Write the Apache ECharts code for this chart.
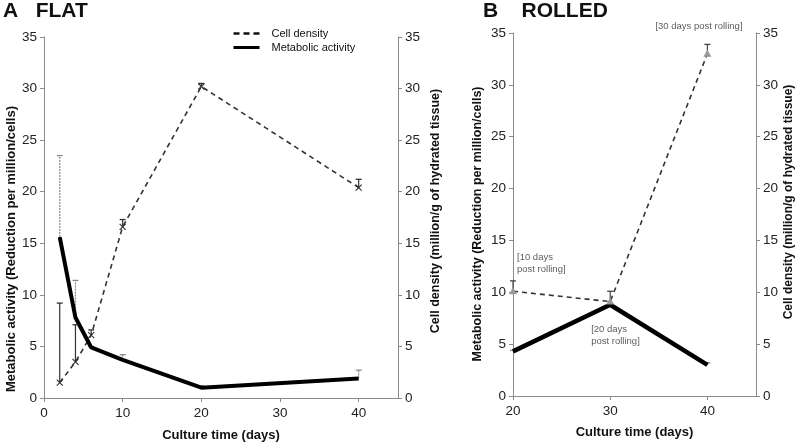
<!DOCTYPE html>
<html><head><meta charset="utf-8">
<script src="https://cdn.jsdelivr.net/npm/echarts@6/dist/echarts.min.js"></script>
<style>html,body{margin:0;padding:0;background:#fff}#c{width:800px;height:447px}</style>
</head><body><div id="c"></div>
<script>
// ---- data ----
var flatDays = [2, 4, 6, 10, 20, 40];
var flatMetab = [15.6, 7.8, 4.9, 3.7, 1.0, 1.9];
var flatMetabUpper = [23.5, 11.4, 5.0, 4.2, 1.2, 2.7];
var flatDensity = [1.5, 3.5, 6.1, 16.6, 30.2, 20.4];
var flatDensityUpper = [9.2, 7.1, 6.6, 17.3, 30.5, 21.2];

var rolledDays = [20, 30, 40];
var rolledMetab = [4.3, 8.8, 3.0];
var rolledMetabUpper = [4.4, 8.9, 3.2];
var rolledDensity = [10.1, 9.1, 33.0];
var rolledDensityUpper = [11.1, 10.1, 33.9];
var rolledNotes = ['[10 days\npost rolling]', '[20 days\npost rolling]', '[30 days post rolling]'];

var yTicks = [0, 5, 10, 15, 20, 25, 30, 35];
var flatXTicks = [0, 10, 20, 30, 40];
var rolledXTicks = [20, 30, 40];

var FONT = '"Liberation Sans", Arial, sans-serif';

function pairs(xs, ys) { return xs.map(function (x, i) { return [x, ys[i]]; }); }
function triples(xs, ys, us) { return xs.map(function (x, i) { return [x, ys[i], us[i]]; }); }

function errRender(color, dash, marker) {
  return function (params, api) {
    var p = api.coord([api.value(0), api.value(1)]);
    var u = api.coord([api.value(0), api.value(2)]);
    var st = { stroke: color, lineWidth: 1.2, lineDash: dash };
    var ch = [
      { type: 'line', shape: { x1: p[0], y1: p[1], x2: u[0], y2: u[1] }, style: st },
      { type: 'line', shape: { x1: u[0] - 3, y1: u[1], x2: u[0] + 3, y2: u[1] }, style: { stroke: color, lineWidth: 1.3 } }
    ];
    if (marker === 'x') {
      ch.push({ type: 'line', shape: { x1: p[0] - 3, y1: p[1] - 3, x2: p[0] + 3, y2: p[1] + 3 }, style: { stroke: color, lineWidth: 1.1 } });
      ch.push({ type: 'line', shape: { x1: p[0] - 3, y1: p[1] + 3, x2: p[0] + 3, y2: p[1] - 3 }, style: { stroke: color, lineWidth: 1.1 } });
    } else if (marker === 'tri') {
      ch.push({ type: 'polygon', shape: { points: [[p[0], p[1] - 4], [p[0] - 4, p[1] + 3], [p[0] + 4, p[1] + 3]] }, style: { fill: '#999' } });
    }
    return { type: 'group', children: ch };
  };
}

function yAxis(grid, pos, name, gap, size, pad) {
  return {
    type: 'value', gridIndex: grid, position: pos, min: 0, max: 35, interval: 5,
    name: name, nameLocation: 'middle', nameGap: gap, nameRotate: 90,
    nameTextStyle: { fontFamily: FONT, fontWeight: 'bold', fontSize: size, color: '#111', padding: pad },
    axisLine: { show: true, lineStyle: { color: '#8a8a8a', width: 1 } },
    axisTick: { show: true, inside: false, length: 4, lineStyle: { color: '#8a8a8a' } },
    axisLabel: { fontFamily: FONT, fontSize: 13.5, color: '#222', margin: 7 },
    splitLine: { show: false }
  };
}
function xAxis(grid, min, ticks, gap) {
  return {
    type: 'value', gridIndex: grid, min: min, max: 45, interval: 10,
    name: 'Culture time (days)', nameLocation: 'middle', nameGap: gap,
    nameTextStyle: { fontFamily: FONT, fontWeight: 'bold', fontSize: 13, color: '#111' },
    axisLine: { show: true, onZero: false, lineStyle: { color: '#8a8a8a', width: 1 } },
    axisTick: { show: true, length: 4, customValues: ticks, lineStyle: { color: '#8a8a8a' } },
    axisLabel: { fontFamily: FONT, fontSize: 13.5, color: '#222', margin: 8, customValues: ticks },
    splitLine: { show: false }
  };
}

var chart = echarts.init(document.getElementById('c'), null, { renderer: 'canvas' });
chart.setOption({
  animation: false,
  backgroundColor: '#fff',
  title: [
    { text: 'A   FLAT', left: 3, top: 1, padding: 0, textStyle: { fontFamily: FONT, fontWeight: 'bold', fontSize: 21, color: '#111' } },
    { text: 'B    ROLLED', left: 483, top: 1, padding: 0, textStyle: { fontFamily: FONT, fontWeight: 'bold', fontSize: 21, color: '#111' } }
  ],
  legend: {
    orient: 'vertical', left: 232, top: 28, itemWidth: 26, itemHeight: 10, itemGap: 3, padding: 0,
    itemStyle: { opacity: 0 },
    data: [
      { name: 'Cell density', lineStyle: { width: 2.5, type: [6, 4], color: '#111' } },
      { name: 'Metabolic activity', lineStyle: { width: 3, color: '#000' } }
    ],
    textStyle: { fontFamily: FONT, fontSize: 11, color: '#111', padding: [0, 0, 0, 7] }
  },
  grid: [
    { left: 44, top: 37, width: 354, height: 365 },
    { left: 513, top: 33, width: 243, height: 363 }
  ],
  xAxis: [xAxis(0, 0, flatXTicks, 31), xAxis(1, 20, rolledXTicks, 30)],
  yAxis: [
    yAxis(0, 'left', 'Metabolic activity (Reduction per million/cells)', 24, 13, [0, 63, 0, 0]),
    yAxis(0, 'right', 'Cell density (million/g of hydrated tissue)', 31, 12.5, [0, 0, 0, 13]),
    yAxis(1, 'left', 'Metabolic activity (Reduction per million/cells)', 29, 12.5, [0, 19, 0, 0]),
    yAxis(1, 'right', 'Cell density (million/g of hydrated tissue)', 27, 12, [0, 0, 0, 25])
  ],
  series: [
    { name: 'Cell density', type: 'line', xAxisIndex: 0, yAxisIndex: 1, data: pairs(flatDays, flatDensity),
      symbol: 'none', lineStyle: { color: '#333', width: 1.6, type: [5, 4] }, itemStyle: { color: '#333' }, z: 3 },
    { name: 'Metabolic activity', type: 'line', xAxisIndex: 0, yAxisIndex: 0, data: pairs(flatDays, flatMetab),
      symbol: 'none', lineStyle: { color: '#000', width: 4 }, itemStyle: { color: '#000' }, z: 4 },
    { type: 'custom', xAxisIndex: 0, yAxisIndex: 0, data: triples(flatDays, flatMetab, flatMetabUpper),
      renderItem: errRender('#8a8a8a', [2, 1], null), z: 2 },
    { type: 'custom', xAxisIndex: 0, yAxisIndex: 1, data: triples(flatDays, flatDensity, flatDensityUpper),
      renderItem: errRender('#333', null, 'x'), z: 5 },

    { name: 'Cell density', type: 'line', xAxisIndex: 1, yAxisIndex: 3, data: pairs(rolledDays, rolledDensity),
      symbol: 'none', lineStyle: { color: '#333', width: 1.6, type: [5, 4] }, itemStyle: { color: '#333' }, z: 3 },
    { name: 'Metabolic activity', type: 'line', xAxisIndex: 1, yAxisIndex: 2, data: pairs(rolledDays, rolledMetab),
      symbol: 'none', lineStyle: { color: '#000', width: 4.5 }, itemStyle: { color: '#000' }, z: 4 },
    { type: 'custom', xAxisIndex: 1, yAxisIndex: 2, data: triples(rolledDays, rolledMetab, rolledMetabUpper),
      renderItem: errRender('#888', null, null), z: 2 },
    { type: 'custom', xAxisIndex: 1, yAxisIndex: 3, data: triples(rolledDays, rolledDensity, rolledDensityUpper),
      renderItem: errRender('#444', null, 'tri'), z: 5 },
    { type: 'scatter', xAxisIndex: 1, yAxisIndex: 3, symbolSize: 1, itemStyle: { color: 'rgba(0,0,0,0)' }, z: 6,
      silent: true,
      data: rolledDays.map(function (d, i) {
        var offs = [[4, -40], [-19, 22], [-52, -33]];
        return { value: [d, rolledDensity[i]],
          label: { show: true, formatter: rolledNotes[i], position: 'inside', align: 'left', verticalAlign: 'top',
            offset: offs[i], fontFamily: FONT, fontSize: 9.5, lineHeight: 12, color: '#333' } };
      }) }
  ]
});
</script></body></html>
